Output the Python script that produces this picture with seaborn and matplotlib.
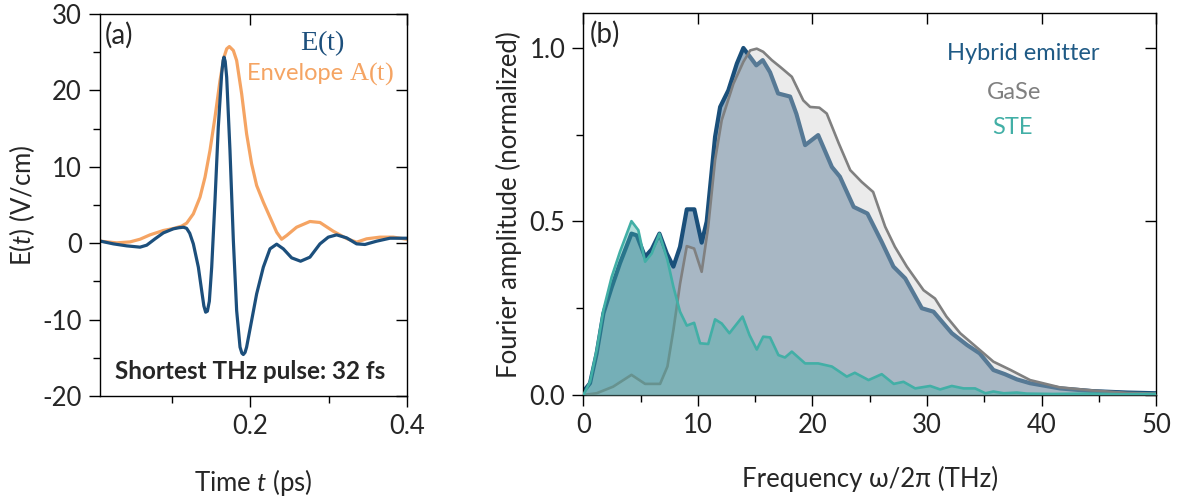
import numpy as np
import pandas as pd
import matplotlib
matplotlib.use("Agg")
import matplotlib.pyplot as plt
from matplotlib.ticker import MultipleLocator
import seaborn as sns

# ---------------- data: (a) time-domain pulse ----------------
t_field = [0.0096, 0.0257, 0.0427, 0.0597, 0.0682, 0.0788, 0.0894, 0.1021, 0.1090,
           0.1149, 0.1190, 0.1230, 0.1276, 0.1340, 0.1382, 0.1410, 0.1433, 0.1455,
           0.1480, 0.1510, 0.1552, 0.1594, 0.1637, 0.1655, 0.1667, 0.1682, 0.1701,
           0.1743, 0.1786, 0.1828, 0.1871, 0.1895, 0.1913, 0.1935, 0.1955, 0.2019,
           0.2083, 0.2168, 0.2253, 0.2338, 0.2423, 0.2529, 0.2643, 0.2762, 0.2890,
           0.2996, 0.3102, 0.3229, 0.3357, 0.3463, 0.3611, 0.3781, 0.3994]
e_field = [0.26, -0.09, -0.35, -0.52, -0.26, 0.57, 1.35, 1.88, 2.02,
           2.09, 1.95, 1.30, -0.09, -3.14, -6.2, -8.2, -9.03, -8.9,
           -7.6, -3.14, 5.58, 15.18, 22.16, 23.9, 24.35, 23.8, 21.73,
           12.13, 0.35, -8.81, -13.6, -14.4, -14.57, -14.3, -13.6, -10.12,
           -6.63, -3.14, -0.74, -0.13, -0.74, -1.92, -2.36, -1.83, -0.09,
           0.79, 1.09, 0.70, -0.09, -0.17, 0.26, 0.65, 0.65]

t_env = [0.0096, 0.0300, 0.0470, 0.0597, 0.0724, 0.0894, 0.1021, 0.1127, 0.1191,
         0.1276, 0.1361, 0.1425, 0.1488, 0.1552, 0.1616, 0.1667, 0.1701, 0.1735,
         0.1786, 0.1828, 0.1892, 0.1955, 0.2019, 0.2083, 0.2168, 0.2253, 0.2338,
         0.2401, 0.2465, 0.2592, 0.2762, 0.2890, 0.3059, 0.3229, 0.3357, 0.3484,
         0.3654, 0.3824, 0.3994]
a_env = [0.26, 0.04, 0.17, 0.52, 1.09, 1.66, 1.92, 2.23, 2.62,
         3.84, 6.02, 8.64, 12.13, 16.49, 21.29, 24.35, 25.44, 25.74,
         25.22, 23.91, 19.55, 14.31, 10.38, 7.55, 5.37, 3.40, 1.44,
         0.52, 1.00, 2.09, 2.84, 2.71, 1.57, 0.61, 0.13, 0.57,
         0.79, 0.79, 0.52]

# ---------------- data: (b) spectra ----------------
f_hyb = [0.0, 0.58, 1.16, 1.75, 2.47, 3.2, 4.2, 4.66, 5.39, 5.97, 6.64, 7.28, 7.86,
         8.44, 9.03, 9.69, 10.33, 10.77, 11.5, 11.94, 12.66, 13.4, 13.97, 14.56,
         15.1, 15.66, 16.3, 17.0, 18.05, 18.6, 19.36, 20.5, 21.7, 22.4, 23.6, 24.8,
         26.05, 27.07, 28.1, 29.55, 30.57, 32.17, 33.5, 34.6, 35.8, 36.8, 37.85,
         39.0, 41.6, 44.5, 47.5, 50.0]
a_hyb = [0.01, 0.034, 0.12, 0.235, 0.31, 0.38, 0.465, 0.46, 0.398, 0.42, 0.465,
         0.408, 0.37, 0.427, 0.535, 0.535, 0.439, 0.50, 0.744, 0.83, 0.878, 0.955,
         1.0, 0.974, 0.95, 0.965, 0.93, 0.869, 0.86, 0.81, 0.72, 0.749, 0.657,
         0.629, 0.542, 0.523, 0.441, 0.37, 0.336, 0.25, 0.24, 0.178, 0.144, 0.12,
         0.072, 0.060, 0.045, 0.034, 0.019, 0.011, 0.007, 0.005]

f_gase = [0.0, 1.16, 2.6, 4.2, 5.39, 6.7, 7.34, 7.86, 8.44, 9.03, 9.67, 10.33,
          10.9, 11.5, 12.08, 13.1, 13.97, 14.56, 15.14, 15.7, 16.45, 17.2, 18.2,
          19.2, 19.8, 20.6, 21.25, 22.3, 23.3, 24.3, 25.3, 26.35, 27.2, 28.24,
          29.7, 30.7, 31.7, 32.9, 34.6, 35.8, 37.3, 39.0, 41.6, 44.5, 47.5, 50.0]
a_gase = [0.0, 0.005, 0.024, 0.058, 0.032, 0.032, 0.082, 0.187, 0.32, 0.429,
          0.422, 0.355, 0.485, 0.677, 0.792, 0.897, 0.96, 0.993, 0.998, 0.989,
          0.965, 0.945, 0.917, 0.849, 0.83, 0.828, 0.811, 0.725, 0.648, 0.614,
          0.585, 0.485, 0.427, 0.37, 0.302, 0.278, 0.226, 0.178, 0.13, 0.096,
          0.072, 0.043, 0.022, 0.013, 0.006, 0.004]

f_ste = [0.0, 0.58, 1.16, 1.75, 2.47, 3.2, 4.2, 4.8, 5.39, 5.97, 6.64, 7.34, 7.86,
         8.44, 9.03, 9.67, 10.19, 10.9, 11.5, 12.08, 12.75, 13.9, 14.5, 15.14,
         15.7, 16.3, 17.03, 17.6, 18.2, 19.36, 20.5, 21.7, 23.0, 23.7, 24.9,
         26.05, 27.1, 27.95, 28.97, 30.28, 31.15, 32.17, 33.19, 34.2, 35.1, 35.8,
         36.7, 37.85, 38.7, 41.0, 44.0, 47.0, 50.0]
a_ste = [0.0, 0.038, 0.13, 0.245, 0.34, 0.413, 0.501, 0.475, 0.384, 0.408, 0.465,
         0.389, 0.312, 0.24, 0.2, 0.208, 0.149, 0.147, 0.218, 0.206, 0.178, 0.226,
         0.173, 0.131, 0.168, 0.166, 0.115, 0.108, 0.125, 0.091, 0.091, 0.082,
         0.053, 0.064, 0.043, 0.06, 0.032, 0.038, 0.019, 0.026, 0.016, 0.026,
         0.019, 0.019, 0.005, 0.01, 0.005, 0.007, 0.004, 0.003, 0.004, 0.002, 0.003]

# ---------------- style ----------------
C_FIELD = "#1c4f7c"
C_ENV = "#f5a463"
C_HYB = "#1a4f7a"
C_GASE = "#808080"
C_STE = "#42afa6"

sns.set_style("ticks")
plt.rcParams["font.family"] = ["Lato", "DejaVu Sans"]
plt.rcParams["mathtext.fontset"] = "custom"
plt.rcParams["mathtext.rm"] = "Liberation Serif"
plt.rcParams["mathtext.it"] = "Lato:italic"
plt.rcParams["mathtext.bf"] = "Lato:bold"
plt.rcParams["axes.linewidth"] = 1.0
plt.rcParams["axes.edgecolor"] = "black"

FS = 18.5

fig = plt.figure(figsize=(11.84, 5.01), dpi=100)
axA = fig.add_axes([0.0845, 0.2096, 0.2593, 0.7625])
axB = fig.add_axes([0.4927, 0.2116, 0.4837, 0.7619])


def style_axes(ax):
    ax.tick_params(which="both", direction="out", top=False, right=False,
                   labelsize=FS, color="black", width=1.0, pad=5)
    ax.tick_params(which="major", length=8)
    ax.tick_params(which="minor", length=5)
    ax.tick_params(which="major", top=True, right=True)
    for s in ax.spines.values():
        s.set_color("black")
        s.set_visible(True)


# ---------------- panel (a) ----------------
df_field = pd.DataFrame({"t": t_field, "E": e_field})
df_env = pd.DataFrame({"t": t_env, "A": a_env})
sns.lineplot(data=df_env, x="t", y="A", ax=axA, color=C_ENV, lw=2.3, sort=False)
sns.lineplot(data=df_field, x="t", y="E", ax=axA, color=C_FIELD, lw=2.3, sort=False)
axA.set_xlim(0.0087, 0.4)
axA.set_ylim(-20, 30)
axA.xaxis.set_minor_locator(MultipleLocator(0.1))
axA.yaxis.set_minor_locator(MultipleLocator(5))
axA.set_xticks([0.2, 0.4])
axA.set_xticklabels(["0.2", "0.4"])
axA.set_yticks([-20, -10, 0, 10, 20, 30])
axA.set_yticklabels(["-20", "-10", "0", "10", "20", "30"])
style_axes(axA)
axA.set_xlabel("Time $t$ (ps)", fontsize=FS)
axA.set_ylabel("E($t$) (V/cm)", fontsize=FS)
axA.xaxis.set_label_coords(0.5, -0.185)
axA.yaxis.set_label_coords(-0.205, 0.5)

axA.text(0.016, 0.98, "(a)", transform=axA.transAxes, fontsize=FS + 1.5,
         ha="left", va="top")
axA.text(0.723, 0.925, r"$\mathrm{E(t)}$", transform=axA.transAxes,
         fontsize=FS + 2, color=C_FIELD, ha="center", va="center")
env_lbl = axA.text(0.478, 0.845, "Envelope ", transform=axA.transAxes,
                   fontsize=17, color=C_ENV, ha="left", va="center")
axA.annotate(r"$\mathrm{A(t)}$", xy=(1.0, 0.5), xycoords=env_lbl,
             fontsize=19, color=C_ENV, ha="left", va="center")
axA.text(0.49, 0.064, "Shortest THz pulse: 32 fs", transform=axA.transAxes,
         fontsize=17.5, fontweight="bold", ha="center", va="center")

# ---------------- panel (b) ----------------
axB.fill_between(f_hyb, a_hyb, color=C_HYB, alpha=0.45, lw=0, zorder=1)
sns.lineplot(x=f_hyb, y=a_hyb, ax=axB, color=C_HYB, lw=3.0, sort=False, zorder=2)
axB.fill_between(f_gase, a_gase, color="#c8c8c8", alpha=0.35, lw=0, zorder=3)
sns.lineplot(x=f_gase, y=a_gase, ax=axB, color=C_GASE, lw=1.9, sort=False, zorder=4)
axB.fill_between(f_ste, a_ste, color=C_STE, alpha=0.4, lw=0, zorder=5)
sns.lineplot(x=f_ste, y=a_ste, ax=axB, color=C_STE, lw=1.9, sort=False, zorder=6)

axB.set_xlim(0, 50)
axB.set_ylim(0, 1.1)
axB.xaxis.set_major_locator(MultipleLocator(10))
axB.xaxis.set_minor_locator(MultipleLocator(5))
axB.yaxis.set_minor_locator(MultipleLocator(0.25))
axB.set_yticks([0.0, 0.5, 1.0])
axB.set_yticklabels(["0.0", "0.5", "1.0"])
style_axes(axB)
axB.set_xlabel("Frequency ω/2π (THz)", fontsize=FS)
axB.set_ylabel("Fourier amplitude (normalized)", fontsize=FS)
axB.xaxis.set_label_coords(0.5, -0.185)
axB.yaxis.set_label_coords(-0.108, 0.5)

axB.text(0.011, 0.98, "(b)", transform=axB.transAxes, fontsize=FS + 1.5,
         ha="left", va="top")
axB.text(0.768, 0.895, "Hybrid emitter", transform=axB.transAxes, fontsize=17,
         color="#1f5a85", ha="center", va="center")
axB.text(0.752, 0.793, "GaSe", transform=axB.transAxes, fontsize=17,
         color=C_GASE, ha="center", va="center")
axB.text(0.749, 0.701, "STE", transform=axB.transAxes, fontsize=17,
         color=C_STE, ha="center", va="center")

for ax in (axA, axB):
    # major ticks on top/right point inward, bottom/left outward
    for tick in ax.xaxis.get_major_ticks():
        tick.tick2line.set_marker(3)
    for tick in ax.yaxis.get_major_ticks():
        tick.tick2line.set_marker(0)

fig.savefig("out.png", dpi=100)
